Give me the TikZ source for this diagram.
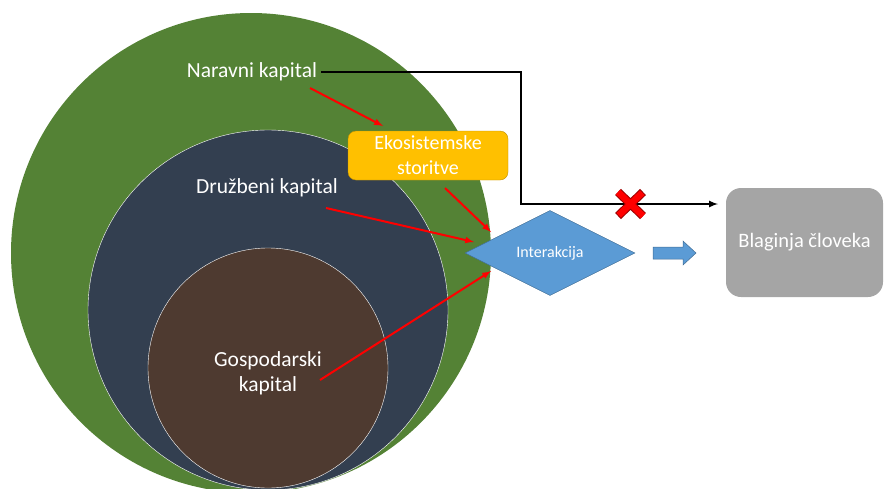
\documentclass[tikz,border=0pt]{standalone}
\usepackage{fontspec}
\setmainfont{Carlito}
\usetikzlibrary{shapes.geometric, calc}
\definecolor{natgreen}{HTML}{548235}
\definecolor{socnavy}{HTML}{333F50}
\definecolor{gosbrown}{HTML}{4E3A30}
\definecolor{ekoyellow}{HTML}{FFC000}
\definecolor{interblue}{HTML}{5B9BD5}
\definecolor{blaggray}{HTML}{A5A5A5}
\tikzset{
  captxt/.style={text=white,font=\fontsize{21.5}{25}\selectfont,align=center,inner sep=4pt},
  redarrow/.style={->,red,line width=2pt}
}
\begin{document}
\begin{tikzpicture}[>=latex,x=1pt,y=-1pt]
  \clip(0,0)rectangle(885,488);
  \fill[natgreen](251,253)circle(240pt);
  \draw[white,fill=socnavy](268,310)circle(180pt);
  \draw[white,fill=gosbrown](268,368)circle(120pt);
  \node[captxt](nat)at(252,72){Naravni kapital};
  \node[captxt](soc)at(267,188){Družbeni kapital};
  \node[captxt](gos)at(268,373){Gospodarski\\kapital};
  \node[captxt,font=\fontsize{20}{25}\selectfont,draw=ekoyellow!75!black,fill=ekoyellow,rounded corners=8pt,minimum width=160pt,minimum height=49pt](eko)at(428,155.5){Ekosistemske\\storitve};
  \node[diamond,draw=interblue!70!black,fill=interblue,text=white,font=\fontsize{16}{18}\selectfont,aspect=2,inner sep=0pt,minimum width=170pt,minimum height=85pt](inter)at(550,253){Interakcija};
  \node[captxt,font=\fontsize{20.5}{24}\selectfont,fill=blaggray,rounded corners=15pt,minimum width=157pt,minimum height=109pt](blag)at(804.5,242.5){Blaginja človeka};
  \draw[interblue!70!black,fill=interblue,line width=0.5pt](653,247)--(683,247)--(683,241)--(696,253)--(683,265)--(683,259)--(653,259)--cycle;
  \coordinate(turn)at(521,204);
  \coordinate(blagend)at(718,204);
  \draw[->,line width=2pt](nat.east)-|(turn)--(blagend);
  \draw[line width=8.5pt,red!60!black](618,192)--(643,216)(643,192)--(618,216);
  \draw[line width=6.5pt,red,shorten <=1pt,shorten >=1pt](618,192)--(643,216)(643,192)--(618,216);
  \coordinate(natstart)at(310,88);
  \coordinate(ekoend)at(383,126);
  \coordinate(ekostart)at(445,188);
  \coordinate(intertop)at(491,232);
  \coordinate(socstart)at(326,208);
  \coordinate(interleft)at(474,242);
  \coordinate(gosstart)at(320,380);
  \coordinate(interlow)at(491,271);
  \draw[redarrow](natstart)--(ekoend);
  \draw[redarrow](ekostart)--(intertop);
  \draw[redarrow](socstart)--(interleft);
  \draw[redarrow](gosstart)--(interlow);
\end{tikzpicture}
\end{document}
